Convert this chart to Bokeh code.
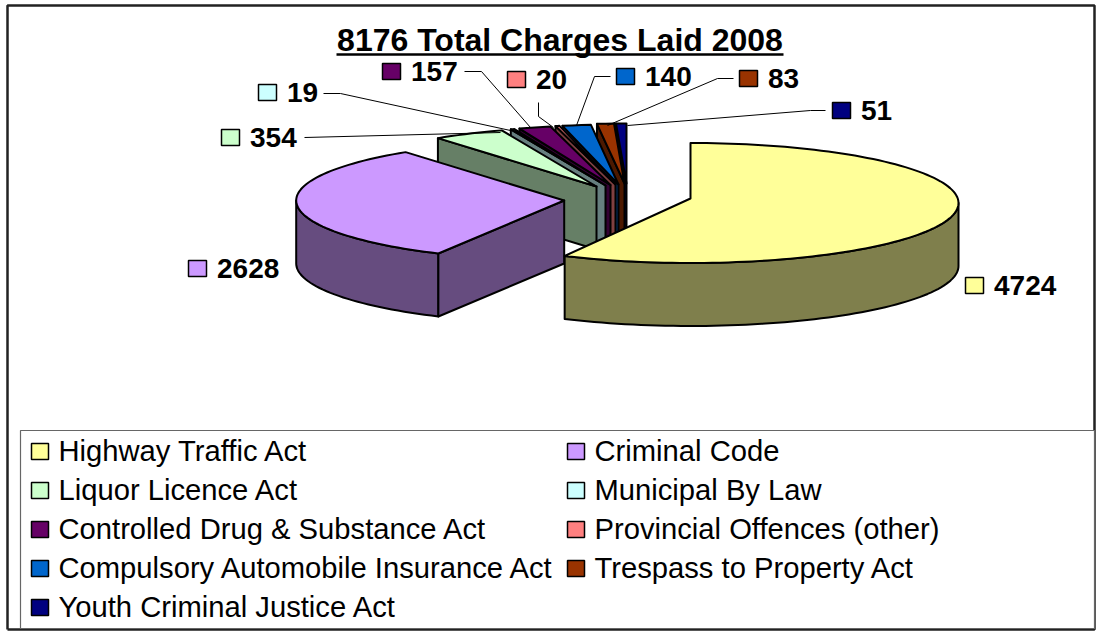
import math
from bokeh.plotting import figure
from bokeh.embed import file_html
from bokeh.resources import INLINE
from bokeh.core.properties import value
from bokeh.models import Range1d

# ---------- data ----------
categories = ["Highway Traffic Act", "Criminal Code", "Liquor Licence Act", "Municipal By Law",
              "Controlled Drug & Substance Act", "Provincial Offences (other)",
              "Compulsory Automobile Insurance Act", "Trespass to Property Act",
              "Youth Criminal Justice Act"]
charges = [4724, 2628, 354, 19, 157, 20, 140, 83, 51]
colors = ["#FFFF99", "#CC99FF", "#CCFFCC", "#CCFFFF", "#660066", "#FF8080", "#0066CC", "#993300", "#000080"]
title_text = "8176 Total Charges Laid 2008"

# ---------- layout ----------
W, H = 1099, 633
RX, RY, DEPTH = 268, 60, 63
centre_x = [690, 563.7, 596, 605, 610, 615, 618, 624, 626]
centre_y = [202.5, 200, 186, 185, 184.5, 184, 184, 183, 183]
apex_y = [198, 200, 186, 185, 184.5, 184, 184, 183, 183]
label_pos = [(965, 285), (188, 268), (221, 137), (258, 92), (382, 71), (507, 79), (616, 76), (739, 78), (832, 110)]
leaders = [None, None,
           [(304, 137), (500, 132)],
           [(323, 93), (340, 93), (510, 130)],
           [(464, 71), (481, 71), (530, 127)],
           [(538, 102), (538, 116), (553, 127)],
           [(610, 76), (594, 76), (576, 125)],
           [(733, 78), (717, 78), (607, 125)],
           [(825, 110), (810, 110), (627, 125)]]

p = figure(width=W, height=H, output_backend="svg", toolbar_location=None,
           x_range=Range1d(0, W), y_range=Range1d(H, 0),
           min_border=0, outline_line_color=None)
p.axis.visible = False
p.grid.visible = False


def shade(c):
    return "#%02X%02X%02X" % tuple(int(c[i:i + 2], 16) // 2 for i in (1, 3, 5))


total = sum(charges)
starts, a = [], 0.0
for v in charges:
    starts.append(a)
    a += v / total * 2 * math.pi
ends = starts[1:] + [2 * math.pi]


def pt(i, t, dz=0):
    return centre_x[i] + RX * math.sin(t), centre_y[i] - RY * math.cos(t) + dz


def arc(i, t0, t1, dz=0):
    n = max(2, int(abs(t1 - t0) / 0.03))
    return [pt(i, t0 + (t1 - t0) * k / n, dz) for k in range(n + 1)]


def poly(points, fill):
    p.patch([q[0] for q in points], [q[1] for q in points], fill_color=fill,
            line_color="black", line_width=2, line_join="round")


# outer frame
p.line([7, 7, 1094, 1094, 7], [629, 5, 5, 629, 629], line_color="#222222", line_width=2.5)

# back-to-front: the small slices, then the two big ones
for i in [8, 7, 6, 5, 4, 3, 2]:
    ax, ay = centre_x[i], apex_y[i]
    sx, sy = pt(i, starts[i])
    poly([(sx, sy), (ax, ay), (ax, ay + DEPTH), (sx, sy + DEPTH)], shade(colors[i]))
    poly([(ax, ay)] + arc(i, starts[i], ends[i]), colors[i])

# Criminal Code
i = 1
ax, ay = centre_x[i], apex_y[i]
sx, sy = pt(i, starts[i])
poly(arc(i, starts[i], 1.5 * math.pi) + arc(i, 1.5 * math.pi, starts[i], DEPTH), shade(colors[i]))
poly([(ax, ay), (sx, sy), (sx, sy + DEPTH), (ax, ay + DEPTH)], shade(colors[i]))
poly([(ax, ay)] + arc(i, starts[i], ends[i]), colors[i])

# Highway Traffic Act
i = 0
ax, ay = centre_x[i], apex_y[i]
poly(arc(i, 0.5 * math.pi, ends[i]) + arc(i, ends[i], 0.5 * math.pi, DEPTH), shade(colors[i]))
poly([(ax, ay)] + arc(i, starts[i], ends[i]), colors[i])

# title
p.text([559.5], [39], text=[title_text], text_font=value("Liberation Sans"), text_font_style="bold",
       text_font_size="32px", text_align="center", text_baseline="middle", text_color="black")
p.line([336, 783], [54, 54], line_color="black", line_width=2.5)

# data labels
for i, (x, y) in enumerate(label_pos):
    p.rect([x + 9], [y], width=18, height=16, fill_color=colors[i], line_color="black", line_width=1.5)
    p.text([x + 28.5], [y - 0.5], text=[str(charges[i])], text_font=value("Liberation Sans"), text_font_style="bold",
           text_font_size="28px", text_baseline="middle", text_color="black")
    if leaders[i]:
        p.line([q[0] for q in leaders[i]], [q[1] for q in leaders[i]], line_color="black", line_width=1)

# legend
p.patch([20, 1094, 1094, 20], [430, 430, 628, 628], fill_color="white", line_color="#666666", line_width=1.2)
for i, name in enumerate(categories):
    col, row = i % 2, i // 2
    x0 = 31 if col == 0 else 567
    y = 451 + 39 * row
    p.rect([x0 + 8.5], [y], width=17, height=16, fill_color=colors[i], line_color="black", line_width=1.5)
    p.text([x0 + 27], [y - 1], text=[name], text_font=value("Liberation Sans"), text_font_size="29.2px",
           text_baseline="middle", text_color="black")

open("out.html", "w").write(file_html(p, INLINE))
